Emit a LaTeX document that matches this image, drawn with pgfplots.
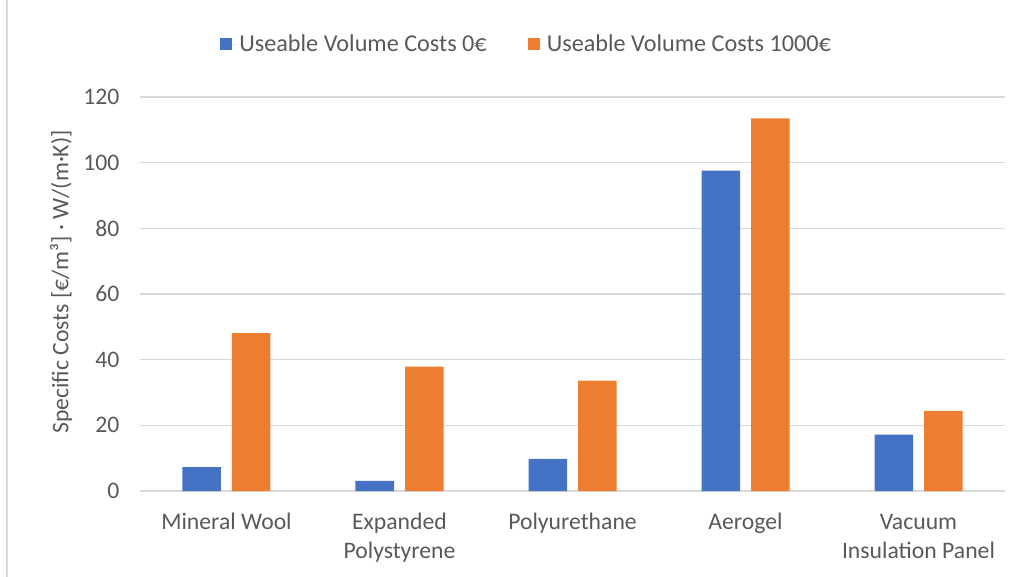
\documentclass[border=0pt]{standalone}
\usepackage{fontspec}
\setmainfont{Carlito}
\usepackage{pgfplots}
\pgfplotsset{compat=1.18}
\definecolor{cblue}{HTML}{4472C4}
\definecolor{corange}{HTML}{ED7D31}
\definecolor{cgrid}{HTML}{D9D9D9}
\definecolor{ctext}{HTML}{595959}
\newcommand{\cfont}{\fontsize{23.7bp}{29bp}\selectfont}
\newcommand{\lfont}{\fontsize{24.2bp}{29bp}\selectfont}
\begin{document}
\begin{tikzpicture}
\useasboundingbox (-140bp,-86bp) rectangle (879bp,491bp);
\draw[cgrid, line width=1.2bp] (-133bp,-86bp) -- (-133bp,491bp);
\begin{axis}[
  at={(0,0)}, anchor=south west,
  scale only axis, width=865bp, height=394bp,
  xmin=-0.5, xmax=4.5, ymin=0, ymax=120,
  ybar=11bp, bar width=38.5bp,
  xtick=data,
  xticklabels={Mineral Wool, {Expanded\\Polystyrene}, Polyurethane, Aerogel, {\vphantom{l}Vacuum\\Insulation Panel}},
  ytick={0,20,...,120},
  axis line style={draw=none},
  tick style={draw=none},
  major tick length=0pt,
  ymajorgrids, grid style={cgrid, line width=1.3bp},
  /pgf/number format/assume math mode=true,
  tick label style={font=\cfont, text=ctext},
  xticklabel style={align=center, yshift=-19bp},
  yticklabel style={xshift=-17bp},
  ylabel={Specific Costs [€/m³] · W/(m·K)]},
  ylabel style={font=\cfont, text=ctext, at={(axis description cs:-0.0913,0.5305)}, anchor=center},
  legend style={at={(rel axis cs:0.447,1.1345)}, anchor=center, draw=none, fill=none,
    font=\lfont, text=ctext, legend columns=2,
    /tikz/every even column/.append style={column sep=39bp}},
  legend cell align=left,
  legend image code/.code={\fill[#1] (0bp,-6bp) rectangle (12bp,6bp); \path (0bp,0bp) -- (17bp,0bp);},
]
\addplot[fill=cblue, draw=none] coordinates {(0,7.3) (1,3.1) (2,9.8) (3,97.6) (4,17.2)};
\addplot[fill=corange, draw=none] coordinates {(0,48.1) (1,37.9) (2,33.6) (3,113.5) (4,24.4)};
\legend{Useable Volume Costs 0€, Useable Volume Costs 1000€}
\end{axis}
\end{tikzpicture}
\end{document}
